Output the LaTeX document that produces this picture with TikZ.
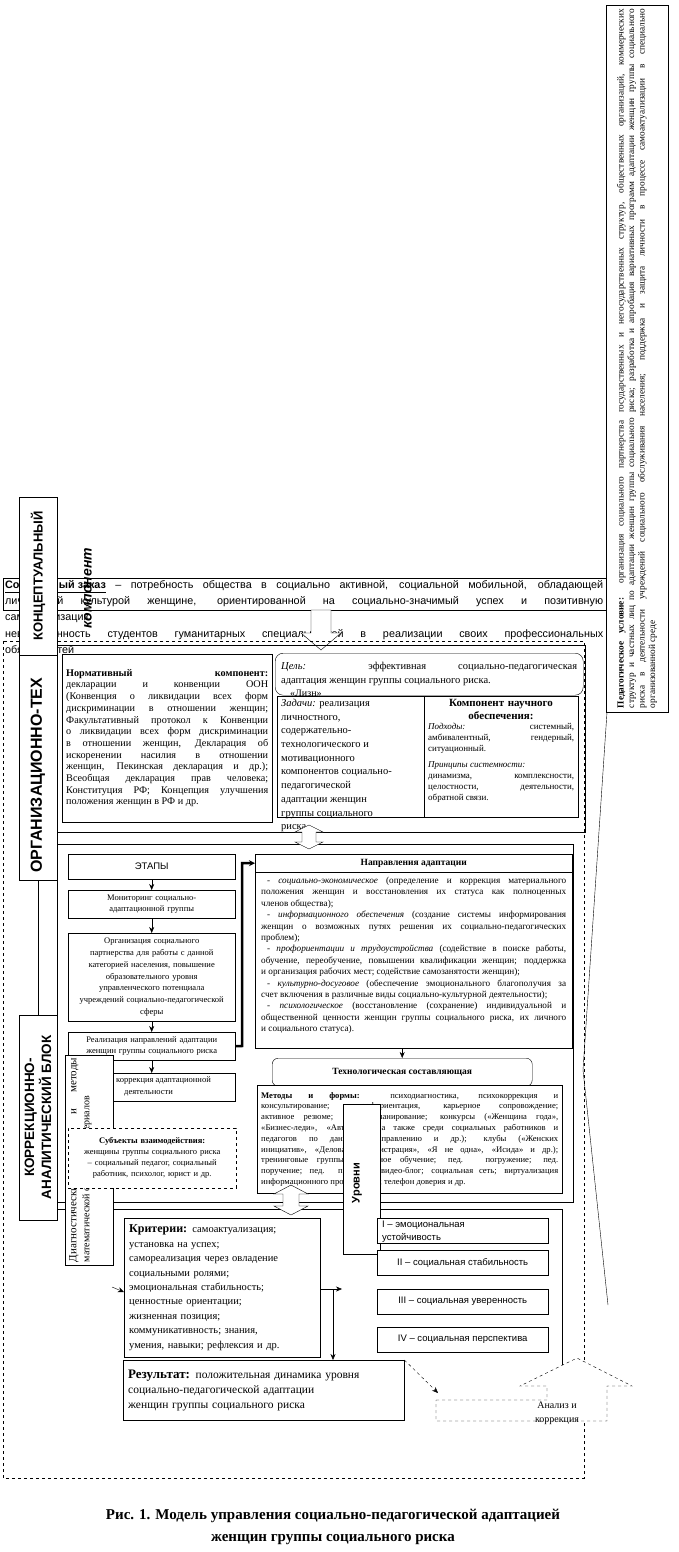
\documentclass[tikz,border=0pt]{standalone}
\usepackage{fontspec}
\setmainfont{Liberation Serif}
\setsansfont{Liberation Sans}
\usetikzlibrary{arrows.meta}
\tikzset{cell/.style={draw, fill=white, anchor=north west, inner sep=2pt}}
\tikzset{arr/.style={draw, -{Stealth[length=6pt, width=5pt]}}}
\tikzset{thickarr/.style={draw, line width=2.5pt, -{Stealth[length=6pt, width=6pt]}}}
\tikzset{block/.style={draw, fill=white}}
\newcommand{\fsz}[2]{\fontsize{#1}{#2}\selectfont}

\begin{document}
\begin{tikzpicture}[x=1pt,y=-1pt]
	\useasboundingbox (0,0) rectangle (678,1552);
	
	% социальный заказ
	\node[draw, anchor=north west, minimum width=604, minimum height=32, inner sep=0] (zakaz) at (3,578) {};
	\node[anchor=north west, text width=598, align=justify, inner sep=0, font=\sffamily\fsz{10.8}{16.3}] (zakaztxt) at (5,580) {\underline{\textbf{Социальный заказ}} – потребность общества в социально активной, социальной мобильной, обладающей\linebreak личностной культурой женщине, ориентированной на социально-значимый успех и позитивную\linebreak самореализацию\par невоспитанность студентов гуманитарных специальностей в реализации своих профессиональных\linebreak обязанностей};
	\draw[block] (311,610) -- (331,610) -- (331,633) -- (341,633) -- (321,650) -- (301,633) -- (311,633) -- cycle;
	
	% рамки
	\draw[dashed] (3,641) rectangle (584,1478);
	\draw (57,645) rectangle (585,832);
	\draw (57,844) rectangle (573,1202);
	\draw (57,1209) -- (562,1209) -- (562,1365);
	\draw (607,712) -- (583,1070) -- (608,1305);
	
	% нормативный компонент
	\node[cell, minimum width=210, minimum height=168, text width=202, align=justify, font=\fsz{10.2}{11.7}] (norm) at (62,654) {{\bfseries Нормативный компонент:}\linebreak декларации и конвенции ООН\linebreak (Конвенция о ликвидации всех форм\linebreak дискриминации в отношении женщин;\linebreak Факультативный протокол к Конвенции\linebreak о ликвидации всех форм дискриминации\linebreak в отношении женщин, Декларация об\linebreak искоренении насилия в отношении\linebreak женщин, Пекинская декларация и др.);\linebreak Всеобщая декларация прав человека;\linebreak Конституция РФ; Концепция улучшения\linebreak положения женщин в РФ и др.};
	
	% цель, задачи, научное обеспечение
	\node[cell, rounded corners=8, minimum width=308, minimum height=42, text width=296, align=justify, inner sep=6pt, font=\fsz{10.5}{13.5}] (cel) at (275,653) {\textit{Цель:} эффективная социально-педагогическая\linebreak адаптация женщин группы социального риска.};
	\node[anchor=north west, inner sep=0, font=\fsz{10}{12}] (lizn) at (290,690) {«Лизн»};
	\node[cell, minimum width=301, minimum height=121] (zad) at (277,696) {};
	\draw (424,696) -- (424,817);
	\node[anchor=north west, inner sep=0, align=left, font=\fsz{10.5}{13.7}] (zadtxt) at (281,699) {\textit{Задачи:} реализация\\личностного,\\содержательно-\\технологического и\\мотивационного\\компонентов социально-\\педагогической\\адаптации женщин\\группы социального\\риска.};
	\node[anchor=north, inner sep=0, text width=146, align=center, font=\bfseries\fsz{11}{13}] (nauka) at (501,699) {Компонент научного\\обеспечения:};
	\node[anchor=north west, inner sep=0, text width=146, align=justify, font=\fsz{9}{11}] (naukatxt) at (428,723) {{\itshape Подходы:} системный,\linebreak амбивалентный, гендерный,\linebreak ситуационный.\par\vspace{5pt}{\itshape Принципы системности:}\par динамизма, комплексности,\linebreak целостности, деятельности,\linebreak обратной связи.};
	\draw[block] (309,825) -- (323,832) -- (316,832) -- (316,842) -- (323,842) -- (309,849) -- (295,842) -- (302,842) -- (302,832) -- (295,832) -- cycle;
	
	% этапы
	\node[cell, minimum width=167, minimum height=25, font=\sffamily\fsz{9.5}{11}] (etapy) at (68,854) {ЭТАПЫ};
	\node[cell, minimum width=167, minimum height=28, text width=163, align=center, font=\fsz{8.5}{11.5}] (monit) at (68,890) {Мониторинг социально-\\адаптационной группы};
	\node[cell, minimum width=167, minimum height=88, text width=163, align=center, font=\fsz{8.5}{11.8}] (organiz) at (68,933) {Организация социального\\партнерства для работы с данной\\категорией населения, повышение\\образовательного уровня\\управленческого потенциала\\учреждений социально-педагогической\\сферы};
	\node[cell, minimum width=167, minimum height=28, text width=163, align=center, font=\fsz{8.5}{11.5}] (realiz) at (68,1032) {Реализация направлений адаптации\\женщин группы социального риска};
	\node[cell, minimum width=167, minimum height=28] (korr) at (68,1073) {};
	\node[anchor=north west, inner sep=0, align=left, font=\fsz{8.5}{12}] (korrtxt) at (116,1076) {коррекция адаптационной\\\hspace*{8pt}деятельности};
	\draw[arr] (etapy) -- (monit);
	\draw[arr] (monit) -- (organiz);
	\draw[arr] (organiz) -- (realiz);
	\draw[arr] (realiz) -- (korr);
	
	% направления адаптации
	\node[cell, minimum width=317, minimum height=194] (napr) at (255,854) {};
	\node[cell, minimum width=317, minimum height=18, font=\bfseries\fsz{9.5}{11}] (naprtitle) at (255,854) {Направления адаптации};
	\node[anchor=north west, text width=305, align=justify, inner sep=0, font=\fsz{9.2}{11.4}] (naprtxt) at (261,877) {\hspace*{6pt}- \textit{социально-экономическое} (определение и коррекция материального\linebreak положения женщин и восстановления их статуса как полноценных\linebreak членов общества);\par
		\hspace*{6pt}- \textit{информационного обеспечения} (создание системы информирования\linebreak женщин о возможных путях решения их социально-педагогических\linebreak проблем);\par
		\hspace*{6pt}- \textit{профориентации и трудоустройства} (содействие в поиске работы,\linebreak обучение, переобучение, повышении квалификации женщин; поддержка\linebreak и организация рабочих мест; содействие самозанятости женщин);\par
		\hspace*{6pt}- \textit{культурно-досуговое} (обеспечение эмоционального благополучия за\linebreak счет включения в различные виды социально-культурной деятельности);\par
		\hspace*{6pt}- \textit{психологическое} (восстановление (сохранение) индивидуальной и\linebreak общественной ценности женщин группы социального риска, их личного\linebreak и социального статуса).};
	\draw[thickarr] (realiz.east) -- (242,1046) |- (naprtitle.west);
	
	% технологическая составляющая
	\node[cell, rounded corners=6, minimum width=260, minimum height=28, font=\bfseries\fsz{9.5}{11}] (tech) at (272,1058) {Технологическая составляющая};
	\draw[arr] (napr.south -| tech.north) -- (tech.north);
	\node[cell, minimum width=305, minimum height=108, text width=297, align=justify, font=\fsz{8.6}{10.8}] (metody) at (257,1085) {\textbf{Методы и формы:} психодиагностика, психокоррекция и\linebreak консультирование; профориентация, карьерное сопровождение;\linebreak активное резюме; бизнес-планирование; конкурсы («Женщина года»,\linebreak «Бизнес-леди», «Автоледи», а также среди социальных работников и\linebreak педагогов по данному направлению и др.); клубы («Женских\linebreak инициатив», «Деловая администрация», «Я не одна», «Исида» и др.);\linebreak тренинговые группы; активное обучение; пед. погружение; пед.\linebreak поручение; пед. практика; видео-блог; социальная сеть; виртуализация\linebreak информационного пространства; телефон доверия и др.};
	
	% диагностические методы, субъекты
	\node[cell, minimum width=48, minimum height=210] (diagn) at (65,1055) {};
	\node[rotate=90, anchor=north, text width=204, align=justify, inner sep=0, font=\fsz{11}{13}] (diagntxt) at (69,1160) {Диагностические методы и методы\linebreak {\fsz{10}{13}математической обработки материалов}};
	\node[cell, dashed, minimum width=168, minimum height=60, text width=160, align=center, font=\fsz{8.5}{11}] (subj) at (68,1128) {\textbf{Субъекты взаимодействия:}\\женщины группы социального риска\\– социальный педагог, социальный\\работник, психолог, юрист и др.};
	
	\draw[block] (291,1185) -- (308,1194) -- (299,1194) -- (299,1206) -- (308,1206) -- (291,1215) -- (274,1206) -- (283,1206) -- (283,1194) -- (274,1194) -- cycle;
	
	% уровни
	\node[cell, minimum width=37, minimum height=150] (urovni) at (343,1104) {};
	\node[rotate=90, inner sep=0, font=\sffamily\bfseries\fsz{11}{12}] (urovnitxt) at (357,1183) {Уровни};
	\node[cell, minimum width=171, minimum height=25] (lev1) at (377,1218) {};
	\node[anchor=north west, inner sep=0, align=left, font=\sffamily\fsz{9.5}{13}] (lev1txt) at (382,1221) {I – эмоциональная\\устойчивость};
	\node[cell, minimum width=171, minimum height=25, inner sep=5pt, font=\sffamily\fsz{9.5}{11}] (lev2) at (377,1250) {II – социальная стабильность};
	\node[cell, minimum width=171, minimum height=25, inner sep=5pt, font=\sffamily\fsz{9.5}{11}] (lev3) at (377,1289) {III – социальная уверенность};
	\node[cell, minimum width=171, minimum height=25, inner sep=5pt, font=\sffamily\fsz{9.5}{11}] (lev4) at (377,1327) {IV – социальная перспектива};
	
	% критерии и результат
	\node[cell, minimum width=196, minimum height=139, text width=186, align=left, inner sep=5pt, font=\fsz{10.5}{14.4}] (krit) at (124,1218) {{\bfseries\fsz{12}{14.4}Критерии:} самоактуализация;\\установка на успех;\\самореализация через овладение\\социальными ролями;\\эмоциональная стабильность;\\ценностные ориентации;\\жизненная позиция;\\коммуникативность; знания,\\умения, навыки; рефлексия и др.};
	\node[cell, minimum width=281, minimum height=60, text width=271, align=left, inner sep=5pt, font=\fsz{11.5}{15}] (rez) at (123,1360) {{\bfseries\fsz{13}{15}Результат:} положительная динамика уровня\\социально-педагогической адаптации\\женщин группы социального риска};
	\coordinate (kin) at (112,1287);
	\coordinate (kout) at (342,1289);
	\coordinate (ksplit) at (333,1289);
	\draw[arr] (kin) -- (krit.west |- 0,1292);
	\draw[arr] (krit.east |- kout) -- (kout);
	\draw[arr] (ksplit) -- (ksplit |- rez.north);
	
	% анализ и коррекция
	\draw[block, dashed] (436,1400) -- (547,1400) -- (547,1386) -- (520,1386) -- (577,1358) -- (632,1386) -- (607,1386) -- (607,1421) -- (436,1421) -- cycle;
	\node[inner sep=0, align=center, font=\fsz{10}{14}] (analiz) at (557,1413) {Анализ и\\коррекция};
	\coordinate (analizin) at (438,1393);
	\draw[arr, dashed] (rez.north east) -- (analizin);
	
	% блоки слева
	\node[draw, fill=white, rotate=90, minimum width=158, minimum height=38, inner sep=0, font=\sffamily\bfseries\fsz{13}{14}] (konc) at (38,576) {КОНЦЕПТУАЛЬНЫЙ};
	\node[draw, fill=white, rotate=90, minimum width=225, minimum height=38, inner sep=0] (org) at (38,767.5) {};
	\node[rotate=90, anchor=west, inner sep=0, font=\sffamily\bfseries\fsz{16}{17}] (orgtxt) at (38,873) {ОРГАНИЗАЦИОННО-ТЕХ};
	\draw (org.west) -- (38,1015);
	\node[draw, fill=white, rotate=90, minimum width=205, minimum height=38, inner sep=0, align=center, font=\sffamily\bfseries\fsz{13.5}{17}] (korrblok) at (38,1117.5) {КОРРЕКЦИОННО-\\АНАЛИТИЧЕСКИЙ БЛОК};
	\node[rotate=90, inner sep=0, font=\sffamily\bfseries\itshape\fsz{14}{15}] (komp) at (88,588) {компонент};
	
	% педагогическое условие
	\node[draw, fill=white, rotate=90, minimum width=707, minimum height=62, text width=699, align=justify, inner sep=3pt, font=\fsz{9.3}{10.5}] (uslovie) at (637,358.5) {\textbf{Педагогическое условие:} организация социального партнерства государственных и негосударственных структур, общественных организаций, коммерческих\linebreak структур и частных лиц по адаптации женщин группы социального риска; разработка и апробация вариативных программ адаптации женщин группы социального\linebreak риска в деятельности учреждений социального обслуживания населения; поддержка и защита личности в процессе самоактуализации в специально\linebreak организованной среде};
	
	% подпись
	\node[align=center, font=\bfseries\fsz{15}{22}] (caption) at (333,1527) {Рис. 1. Модель управления социально-педагогической адаптацией\\женщин группы социального риска};
\end{tikzpicture}
\end{document}
